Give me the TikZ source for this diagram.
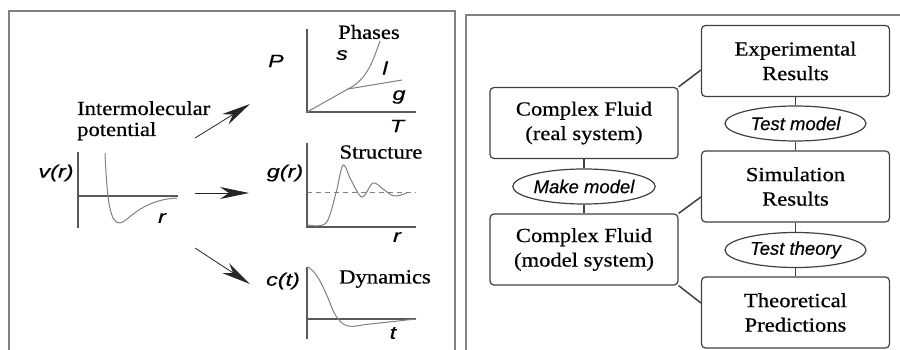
\documentclass[tikz,border=0pt]{standalone}
\usepackage{fontspec}
\setmainfont{Liberation Serif}[FakeStretch=1.13,FakeBold=0.6]
\newfontfamily\lsans{Liberation Sans}[FakeBold=0.4]
\newfontfamily\lsanswide{Liberation Sans}[FakeStretch=1.3,FakeBold=0.4]
\usetikzlibrary{arrows.meta,shapes.geometric}
\newcommand\boxfont{\fontsize{20}{24.5}\selectfont}
\newcommand\ovalfont{\lsans\itshape\fontsize{18.5}{20}\selectfont}
\newcommand\plotfont{\lsanswide\itshape\fontsize{18}{19}\selectfont}
\begin{document}
\begin{tikzpicture}[x=1pt,y=-1pt,
  panel/.style={draw=black!50, line width=1.3pt},
  axis/.style={draw=black!65, line width=1.3pt},
  curve/.style={draw=black!50, line width=1pt},
  bigarrow/.style={draw=black!85, line width=0.8pt, -{Stealth[length=29pt,width=12pt,inset=9pt]}},
  box/.style={draw=black!75, line width=1.2pt, rounded corners=4pt, minimum width=188pt, minimum height=71pt, align=center, font=\boxfont},
  oval/.style={ellipse, draw=black!75, line width=1.2pt, minimum width=141pt, minimum height=35pt, inner sep=0pt, font=\ovalfont},
  link/.style={draw=black!75, line width=1.5pt},
  lbl/.style={font=\plotfont, inner sep=0pt},
  ttl/.style={font=\boxfont, inner sep=0pt}]
\useasboundingbox (0,0) rectangle (900,350);
% panels
\draw[panel] (9,350) -- (9,11) -- (455,11) -- (455,350);
\draw[panel] (466,350) -- (466,15) -- (900,15);

% ---- left panel ----
\node[ttl, anchor=base west] (im1) at (77,115) {Intermolecular};
\node[ttl, anchor=base west] (im2) at (77,136) {potential};
% v(r)
\draw[axis] (78,152) -- (78,228);
\draw[axis] (78,196) -- (178,196);
\draw[curve] (105,153) .. controls (107,200) and (110,224) .. (120,223) .. controls (128,222) and (140,200) .. (177,198);
\node[lbl] (vr) at (56,173) {v(r)};
\node[lbl] (vrr) at (162,218) {r};
% arrows
\coordinate (a1s) at (195,138); \coordinate (a1e) at (250,104);
\coordinate (a2s) at (195,193); \coordinate (a2e) at (249,193);
\coordinate (a3s) at (195,248); \coordinate (a3e) at (250,284);
\draw[bigarrow] (a1s) -- (a1e);
\draw[bigarrow] (a2s) -- (a2e);
\draw[bigarrow] (a3s) -- (a3e);
% phases
\draw[axis] (307,29) -- (307,112) -- (416,112);
\draw[curve] (307,112) -- (348,89) .. controls (366,80) and (372,64) .. (380,41);
\draw[curve] (348,89) -- (402,80);
\node[lbl] (P) at (276,61) {P};
\node[lbl] (s) at (342,55) {s};
\node[lbl] (l) at (385,68) {l};
\node[lbl] (g) at (399,97) {g};
\node[lbl] (T) at (397,126) {T};
\node[ttl] (phases) at (369,32) {Phases};
% structure
\draw[axis] (307,143) -- (307,227) -- (416,227);
\draw[curve, dashed, dash pattern=on 5pt off 4pt] (307,193) -- (416,193);
\draw[curve] plot[smooth, tension=0.55] coordinates {(308,225) (326,223) (336,193) (343,165) (351,180) (362,197) (373,183) (383,189) (394,196) (407,193)};
\node[lbl] (gr) at (285,173) {g(r)};
\node[ttl] (structure) at (381,152) {Structure};
\node[lbl] (sr) at (397,237) {r};
% dynamics
\draw[axis] (307,267) -- (307,339);
\draw[axis] (307,319) -- (416,319);
\draw[curve] plot[smooth, tension=0.6] coordinates {(308,267) (313,271) (320,281) (328,298) (336,316) (348,326) (370,324) (416,319)};
\node[lbl] (ct) at (283,281) {c(t)};
\node[ttl] (dyn) at (385,279) {Dynamics};
\node[lbl] (tt) at (393,333) {t};

% ---- right panel ----
\node[box] (exp) at (795.5,61) {Experimental\\Results};
\node[box] (real) at (584,123) {Complex Fluid\\(real system)};
\node[box] (model) at (584,249.5) {Complex Fluid\\(model system)};
\node[box] (sim) at (795.5,186.5) {Simulation\\Results};
\node[box] (theo) at (795.5,312.5) {Theoretical\\Predictions};
\node[oval] (tm) at (795.5,123.5) {Test model};
\node[oval] (mm) at (584,186.5) {Make model};
\node[oval] (tth) at (795.5,250) {Test theory};
\draw[link] (exp.south) -- (tm.north);
\draw[link] (tm.south) -- (sim.north);
\draw[link] (sim.south) -- (tth.north);
\draw[link] (tth.south) -- (theo.north);
\draw[link] (real.south) -- (mm.north);
\draw[link] (mm.south) -- (model.north);
\draw[link] (real.north east) -- ([yshift=-9pt]exp.west);
\draw[link] (model.north east) -- ([yshift=-10.5pt]sim.west);
\draw[link] (model.south east) -- ([yshift=9.5pt]theo.west);
\end{tikzpicture}
\end{document}
